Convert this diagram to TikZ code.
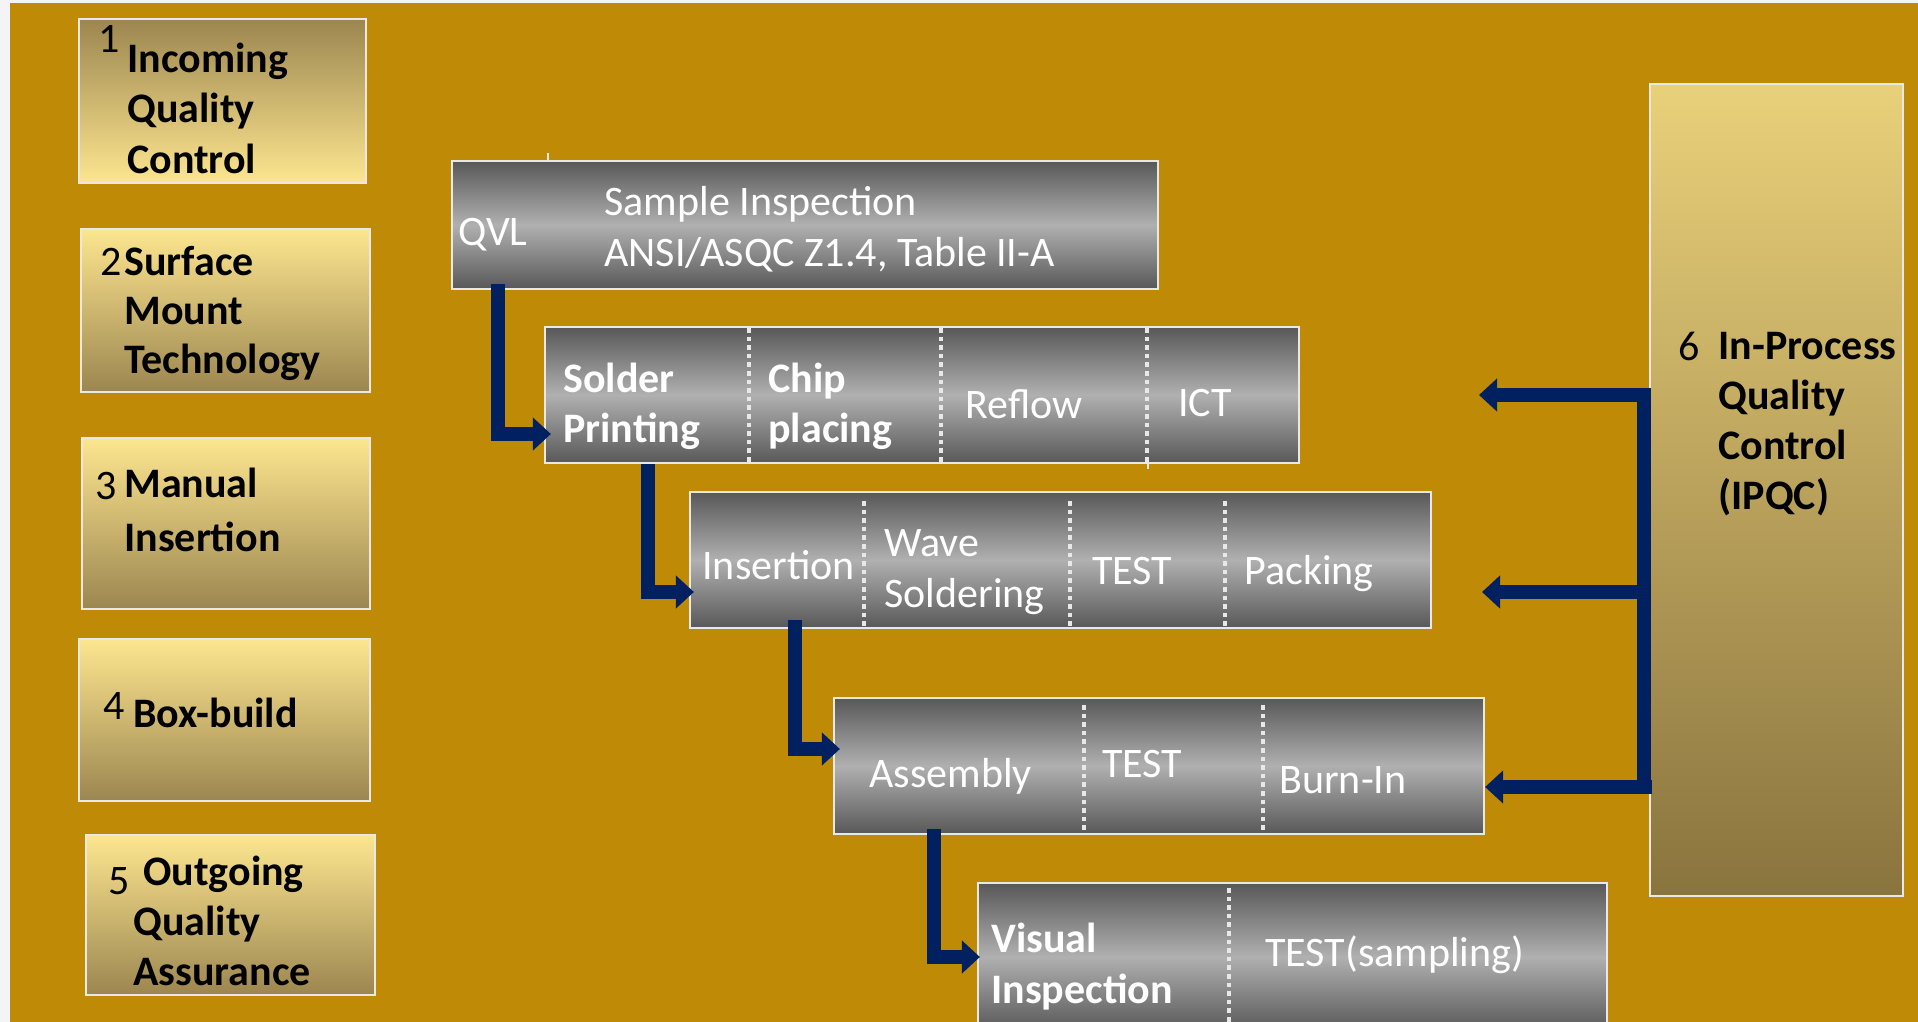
\documentclass[tikz,border=0pt]{standalone}
\usepackage{fontspec}
\setmainfont{Carlito}
\usetikzlibrary{arrows.meta,calc,fit}

\definecolor{slidegold}{RGB}{191,139,6}
\definecolor{slideedge}{RGB}{244,244,246}
\definecolor{flownavy}{RGB}{0,32,96}
\definecolor{paleyellow}{RGB}{253,230,143}
\definecolor{duskgold}{RGB}{156,134,80}
\definecolor{ipqctop}{RGB}{233,208,122}
\definecolor{ipqcbot}{RGB}{138,116,62}
\definecolor{steeldark}{RGB}{88,88,88}
\definecolor{steellight}{RGB}{176,176,176}
\definecolor{rimgray}{RGB}{232,232,232}

\begin{document}
\begin{tikzpicture}[x=0.5pt,y=-0.5pt,
  qcbox/.style={draw=rimgray,line width=1.3pt,inner sep=0pt},
  stagebox/.style={draw=rimgray,line width=1.1pt,inner sep=0pt,top color=steeldark,bottom color=steeldark,middle color=steellight},
  qclabel/.style={inner sep=0pt,anchor=base west,align=left,font=\fontsize{21}{25}\selectfont\bfseries},
  qcnum/.style={inner sep=0pt,anchor=base west,font=\fontsize{21}{25}\selectfont},
  stagelabel/.style={inner sep=0pt,anchor=base west,align=left,text=white,font=\fontsize{21}{25.5}\selectfont},
  stagebold/.style={stagelabel,font=\fontsize{21}{25.5}\selectfont\bfseries},
  divider/.style={draw=rimgray,line width=2pt,dash pattern=on 2.3pt off 2pt},
  flow/.style={draw=flownavy,line width=7pt,-{Triangle[length=9pt,width=16pt]}}]

  \useasboundingbox (0,0) rectangle (1918,1022);
  \clip (0,0) rectangle (1918,1022);
  \fill[slideedge] (0,0) rectangle (1918,1022);
  \fill[slidegold] (10,3) rectangle (1918,1022);

  \node[qcbox,fit={(79,19) (366,183)},top color=duskgold,bottom color=paleyellow] (iqc) {};
  \node[qcbox,fit={(81,229) (370,392)},top color=paleyellow,bottom color=duskgold] (smtqc) {};
  \node[qcbox,fit={(82,438) (370,609)},top color=paleyellow,bottom color=duskgold] (miqc) {};
  \node[qcbox,fit={(79,639) (370,801)},top color=paleyellow,bottom color=duskgold] (boxqc) {};
  \node[qcbox,fit={(86,835) (375,995)},top color=paleyellow,bottom color=duskgold] (oqa) {};
  \node[qcbox,fit={(1650,84) (1903,896)},top color=ipqctop,bottom color=ipqcbot] (ipqc) {};

  \node[qcnum] (iqcN) at (98,53) {1};
  \node[qclabel,font=\fontsize{21}{25.5}\selectfont\bfseries] (iqcT) at (127,174) {Incoming\\Quality\\Control};
  \node[qcnum] (smtqcN) at (100,275) {2};
  \node[qclabel,font=\fontsize{21}{24.5}\selectfont\bfseries] (smtqcT) at (124,373) {Surface\\Mount\\Technology};
  \node[qcnum] (miqcN) at (95,499) {3};
  \node[qclabel,font=\fontsize{21}{27}\selectfont\bfseries] (miqcT) at (124,551) {Manual\\Insertion};
  \node[qcnum] (boxqcN) at (103,719) {4};
  \node[qclabel] (boxqcT) at (133,727) {Box-build};
  \node[qcnum] (oqaN) at (108,894) {5};
  \node[qclabel] (oqaT) at (133,985) {\hspace*{5pt}Outgoing\\Quality\\Assurance};
  \node[qcnum] (ipqcN) at (1678,360) {6};
  \node[qclabel] (ipqcT) at (1718,509) {In-Process\\Quality\\Control\\(IPQC)};

  \node[stagebox,fit={(452,161) (1158,289)}] (qvl) {};
  \node[stagebox,fit={(545,327) (1299,463)}] (smt) {};
  \node[stagebox,fit={(690,492) (1431,628)}] (tht) {};
  \node[stagebox,fit={(834,698) (1484,834)}] (asm) {};
  \node[stagebox,fit={(978,883) (1607,1031)}] (vis) {};

  \foreach \dx in {205,397,603}
    \draw[divider] ($(smt.north west)+(\dx,2)$) -- ($(smt.south west)+(\dx,0)$);
  \foreach \dx in {175,381,536}
    \draw[divider] ($(tht.north west)+(\dx,10)$) -- ($(tht.south west)+(\dx,-3)$);
  \foreach \dx in {251,430}
    \draw[divider] ($(asm.north west)+(\dx,8)$) -- ($(asm.south west)+(\dx,0)$);
  \draw[divider] ($(vis.north west)+(252,6)$) -- ($(vis.south west)+(252,0)$);
  \draw[rimgray,line width=1.4pt] (548,153) -- (548,161);
  \draw[rimgray,line width=1.4pt] (1148,463) -- (1148,469);

  \node[stagelabel] (qvlA) at (458,245) {QVL};
  \node[stagelabel] (qvlB) at (604,266) {Sample Inspection\\ANSI/ASQC Z1.4, Table II-A};
  \node[stagebold,font=\fontsize{21}{25}\selectfont\bfseries] (smtA) at (563,442) {Solder\\Printing};
  \node[stagebold,font=\fontsize{21}{25}\selectfont\bfseries] (smtB) at (768,442) {Chip\\placing};
  \node[stagelabel] (smtC) at (965,418) {Reflow};
  \node[stagelabel] (smtD) at (1178,416) {ICT};
  \node[stagelabel] (thtA) at (702,579) {Insertion};
  \node[stagelabel] (thtB) at (884,607) {Wave\\Soldering};
  \node[stagelabel] (thtC) at (1092,584) {TEST};
  \node[stagelabel] (thtD) at (1244,584) {Packing};
  \node[stagelabel] (asmA) at (869,787) {Assembly};
  \node[stagelabel] (asmB) at (1102,777) {TEST};
  \node[stagelabel] (asmC) at (1279,793) {Burn-In};
  \node[stagebold] (visA) at (991,1003) {Visual\\Inspection};
  \node[stagelabel] (visB) at (1265,966) {TEST(sampling)};

  \draw[flow] ($(qvl.south west)+(47,-6)$) |- ($(smt.west)+(7,39)$);
  \draw[flow] ($(smt.south west)+(104,0)$) |- ($(tht.west)+(5,32)$);
  \draw[flow] ($(tht.south west)+(106,-9)$) |- ($(asm.west)+(7,-17)$);
  \draw[flow] ($(asm.south west)+(101,-6)$) |- ($(vis.west)+(3,0)$);

  \coordinate (feedA) at (1644,395);
  \coordinate (feedB) at (1644,592);
  \coordinate (feedC) at (1652,787);
  \coordinate (tipA) at (1479,395);
  \coordinate (tipB) at (1482,592);
  \draw[flow] (feedC) -| (feedA) -- (tipA);
  \draw[flow] (feedB) -- (tipB);
  \draw[flow] (feedC) -- (asm.east |- feedC);
\end{tikzpicture}
\end{document}
